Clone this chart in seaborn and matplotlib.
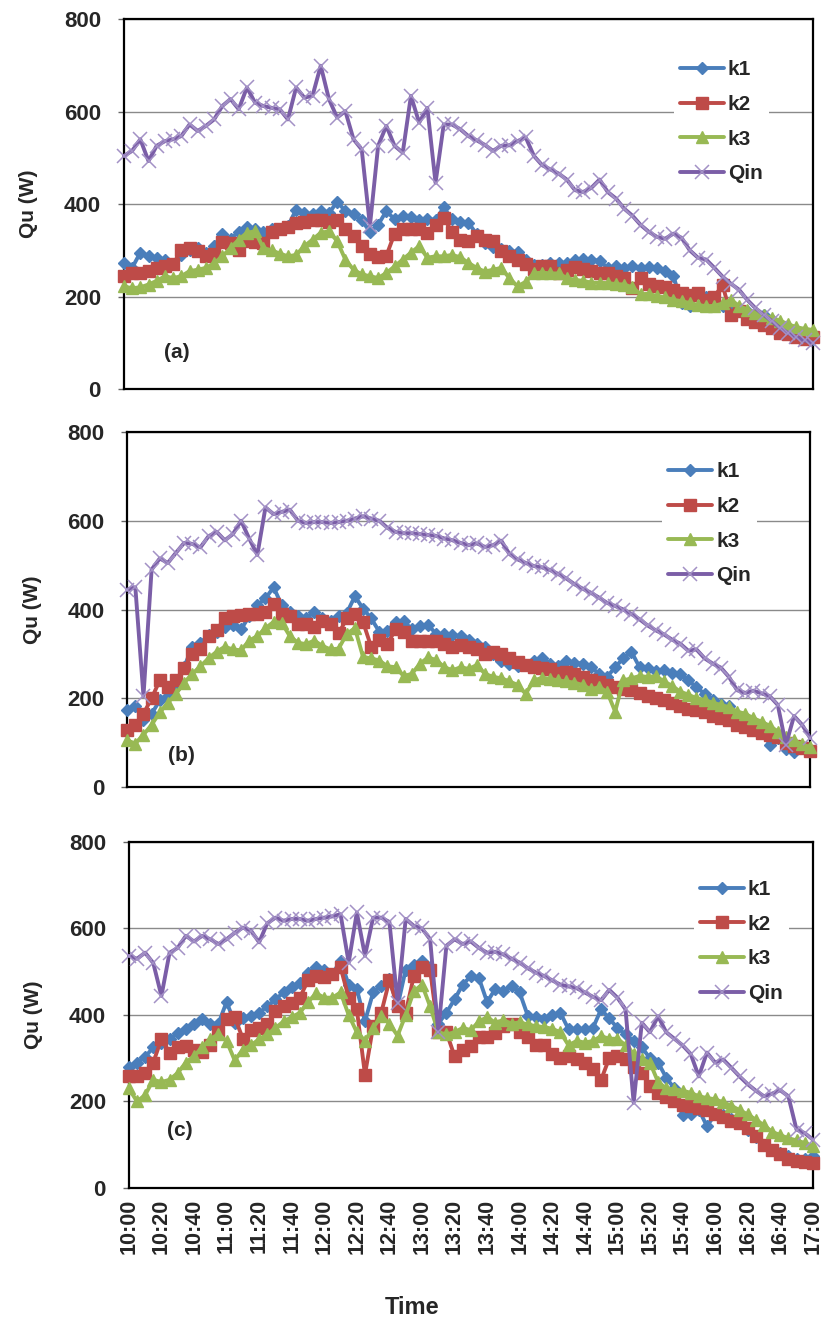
import numpy as np
import seaborn as sns
from matplotlib import pyplot as plt

# time axis, minutes after 10:00, one reading every 5 min
minutes = np.arange(0, 421, 5)
tick_minutes = list(range(0, 421, 20))
tick_labels = ['10:00', '10:20', '10:40', '11:00', '11:20', '11:40', '12:00', '12:20',
               '12:40', '13:00', '13:20', '13:40', '14:00', '14:20', '14:40', '15:00',
               '15:20', '15:40', '16:00', '16:20', '16:40', '17:00']

# panel (a)
k1_a = [273, 262, 295, 287, 284, 280, 270, 290, 300, 305, 295, 310, 335, 325, 340, 350, 345, 340, 345, 345,
        352, 388, 381, 378, 385, 380, 405, 385, 378, 365, 340, 355, 385, 367, 374, 372, 365, 368, 365, 393,
        367, 362, 360,
        335, 316, 308, 302, 298, 296, 280, 269, 269, 273, 273, 273, 280, 282, 280, 277, 262, 265, 262, 266,
        262, 264, 262, 255, 245, 185, 180, 205, 200, 195, 180, 178, 172, 168, 163, 160, 150, 140, 130, 122,
        115, 108]
k2_a = [245, 250, 252, 256, 262, 266, 270, 300, 305, 298, 287, 292, 318, 315, 300, 320, 318, 315, 340, 345,
        350, 358, 362, 365, 366, 362, 366, 345, 330, 310, 292, 285, 288, 336, 345, 345, 345, 338, 355, 370,
        340, 323, 320,
        330, 322, 320, 298, 288, 280, 270, 260, 265, 266, 252, 258, 264, 260, 255, 250, 251, 244, 240, 218,
        240, 228, 222, 220, 215, 208, 204, 208, 193, 200, 225, 160, 168, 152, 145, 138, 132, 122, 118, 112,
        108, 112]
k3_a = [222, 218, 220, 226, 234, 244, 240, 244, 255, 258, 262, 272, 287, 305, 323, 338, 341, 305, 300, 293,
        287, 290, 309, 323, 338, 341, 320, 280, 258, 248, 244, 240, 251, 265, 280, 295, 309, 284, 287, 287,
        290, 285, 273,
        262, 254, 258, 262, 240, 222, 232, 250, 252, 250, 250, 240, 236, 234, 230, 230, 229, 227, 226, 220,
        205, 206, 201, 198, 193, 190, 186, 182, 179, 180, 185, 193, 180, 172, 165, 160, 154, 148, 140, 134,
        130, 128]
qin_a = [504, 515, 540, 493, 526, 536, 540, 547, 572, 558, 569, 583, 612, 627, 605, 652, 619, 612, 608, 605,
         583, 652, 630, 634, 699, 627, 587, 601, 540, 518, 353, 526, 569, 526, 511, 634, 576, 608, 446, 572,
         572, 562, 547,
         538, 528, 515, 526, 527, 536, 544, 504, 484, 475, 466, 453, 430, 426, 435, 453, 426, 412, 390, 375,
         355, 340, 329, 325, 336, 327, 300, 284, 280, 262, 243, 228, 215, 193, 175, 161, 147, 132, 121, 112,
         105, 100]

# panel (b)
k1_b = [173, 182, 150, 165, 195, 205, 225, 270, 316, 325, 342, 350, 360, 365, 355, 385, 410, 425, 450, 410,
        395, 385, 380, 395, 380, 375, 385, 392, 430, 402, 380, 350, 352, 372, 375, 355, 362, 365, 345, 345,
        342, 340, 332,
        322, 316, 300, 285, 278, 272, 275, 285, 290, 278, 272, 284, 280, 278, 271, 255, 248, 270, 290, 305,
        270, 268, 262, 264, 258, 254, 240, 225, 210, 196, 188, 182, 162, 150, 140, 132, 95, 110, 85, 78,
        88, 82]
k2_b = [128, 140, 165, 200, 240, 225, 240, 268, 300, 310, 340, 353, 380, 385, 388, 390, 390, 395, 412, 390,
        385, 368, 368, 360, 375, 368, 346, 380, 390, 372, 316, 331, 323, 355, 350, 330, 330, 330, 330, 322,
        316, 320, 316,
        310, 300, 305, 300, 290, 282, 275, 270, 268, 265, 258, 260, 255, 248, 242, 236, 230, 225, 220, 218,
        212, 206, 200, 196, 190, 182, 176, 174, 168, 160, 156, 150, 140, 135, 128, 122, 118, 112, 100, 92,
        88, 82]
k3_b = [105, 98, 118, 140, 168, 190, 210, 235, 255, 272, 290, 305, 316, 310, 308, 330, 340, 358, 372, 370,
        340, 325, 322, 330, 318, 310, 312, 345, 358, 293, 290, 285, 272, 270, 250, 255, 278, 292, 286, 270,
        263, 270, 266,
        275, 255, 248, 245, 238, 230, 210, 240, 246, 244, 240, 238, 235, 230, 220, 225, 215, 170, 240, 245,
        250, 248, 250, 238, 228, 215, 208, 200, 196, 190, 185, 180, 170, 165, 155, 147, 138, 125, 112, 105,
        96, 90]
qin_b = [445, 450, 205, 490, 515, 505, 528, 550, 548, 540, 565, 575, 556, 570, 600, 560, 523, 630, 615, 620,
         625, 600, 595, 597, 597, 595, 597, 600, 605, 610, 605, 600, 584, 575, 572, 572, 570, 568, 566, 560,
         556, 550, 545,
         549, 541, 545, 555, 525, 513, 505, 498, 495, 489, 480, 470, 457, 447, 438, 427, 415, 408, 400, 390,
         378, 364, 353, 344, 332, 323, 307, 310, 290, 278, 269, 248, 218, 212, 217, 211, 205, 185, 95, 160,
         140, 110]

# panel (c)
k1_c = [280, 290, 303, 325, 335, 344, 358, 367, 380, 390, 380, 380, 430, 382, 394, 398, 405, 420, 436, 452,
        465, 475, 497, 512, 505, 495, 525, 470, 460, 385, 452, 468, 483, 420, 505, 515, 525, 510, 380, 405,
        436, 470, 490,
        485, 430, 460, 455, 468, 452, 398, 395, 390, 400, 405, 367, 367, 367, 370, 413, 392, 370, 355, 340,
        325, 300, 290, 255, 230, 168, 172, 181, 143, 170, 168, 160, 150, 135, 118, 100, 88, 80, 73, 66,
        66, 73]
k2_c = [259, 260, 265, 290, 345, 313, 325, 328, 320, 315, 330, 360, 390, 395, 345, 365, 370, 378, 410, 420,
        428, 440, 480, 490, 488, 495, 510, 440, 413, 262, 374, 405, 480, 420, 405, 490, 510, 505, 360, 360,
        305, 320, 328,
        350, 350, 359, 375, 380, 360, 350, 330, 330, 310, 300, 305, 298, 290, 275, 250, 300, 305, 298, 280,
        265, 235, 220, 210, 200, 192, 189, 186, 180, 170, 163, 155, 150, 138, 120, 100, 88, 78, 68, 62,
        60, 58]
k3_c = [230, 200, 215, 250, 245, 250, 266, 290, 305, 325, 345, 355, 340, 295, 320, 330, 344, 355, 370, 385,
        395, 405, 430, 450, 440, 440, 452, 400, 360, 340, 370, 398, 380, 352, 400, 455, 470, 420, 360, 355,
        360, 370, 365,
        385, 395, 382, 388, 380, 383, 378, 374, 372, 368, 360, 330, 340, 336, 340, 351, 345, 345, 330, 310,
        298, 290, 245, 230, 228, 225, 220, 212, 208, 205, 198, 190, 180, 170, 158, 145, 130, 122, 115, 110,
        104, 97]
qin_c = [537, 530, 544, 520, 444, 544, 555, 583, 570, 583, 575, 564, 575, 590, 602, 595, 568, 612, 625, 618,
         622, 622, 618, 622, 625, 628, 633, 521, 637, 537, 625, 625, 615, 428, 622, 606, 600, 575, 360, 560,
         575, 564, 570,
         555, 544, 546, 540, 530, 521, 508, 498, 490, 480, 470, 466, 462, 452, 442, 434, 458, 440, 413, 197,
         382, 360, 397, 360, 345, 330, 310, 258, 313, 290, 297, 278, 258, 240, 225, 212, 218, 226, 212, 135,
         127, 112]

panels = [
    {'tag': '(a)', 'series': {'k1': k1_a, 'k2': k2_a, 'k3': k3_a, 'Qin': qin_a},
     'rect': [0.150, 0.7057, 0.834, 0.2799], 'legend': (0.798, 0.905), 'tag_pos': (0.058, 0.10)},
    {'tag': '(b)', 'series': {'k1': k1_b, 'k2': k2_b, 'k3': k3_b, 'Qin': qin_b},
     'rect': [0.154, 0.4047, 0.827, 0.2685], 'legend': (0.783, 0.932), 'tag_pos': (0.059, 0.09)},
    {'tag': '(c)', 'series': {'k1': k1_c, 'k2': k2_c, 'k3': k3_c, 'Qin': qin_c},
     'rect': [0.156, 0.1014, 0.828, 0.2617], 'legend': (0.826, 0.908), 'tag_pos': (0.056, 0.165)},
]

# Excel 2007 style colours / markers
styles = {
    'k1': dict(color='#4A7EBB', marker='D', markersize=6.5, markeredgecolor='#4A7EBB', markeredgewidth=1),
    'k2': dict(color='#BE4B48', marker='s', markersize=8, markeredgecolor='#BE4B48', markeredgewidth=1),
    'k3': dict(color='#98B954', marker='^', markersize=8.5, markeredgecolor='#98B954', markeredgewidth=1),
    'Qin': dict(color='#7B5EA7', marker='x', markersize=10, markeredgecolor='#A391C6', markeredgewidth=1.1),
}

for p in panels:
    for name, vals in p['series'].items():
        assert len(vals) == len(minutes), (p['tag'], name, len(vals))

sns.set_style('white')
plt.rcParams['font.family'] = ['Liberation Sans', 'DejaVu Sans']
plt.rcParams['font.weight'] = 'bold'

fig = plt.figure(figsize=(8.26, 13.22), dpi=100)

for i, p in enumerate(panels):
    ax = fig.add_axes(p['rect'])
    for name, vals in p['series'].items():
        sns.lineplot(x=minutes, y=vals, ax=ax, label=name, linewidth=2.8,
                     clip_on=False, zorder=3, **styles[name])

    ax.set_xlim(0, 420)
    ax.set_ylim(0, 800)
    ax.set_yticks([0, 200, 400, 600, 800])
    ax.set_xticks(tick_minutes)
    ax.yaxis.grid(True, color='#8a8a8a', linewidth=1)
    ax.xaxis.grid(False)
    ax.set_axisbelow(True)
    for sp in ax.spines.values():
        sp.set_visible(True)
        sp.set_color('black')
        sp.set_linewidth(1.6)

    ax.tick_params(axis='y', left=True, direction='out', length=4.5, width=1,
                   color='#666666', pad=12, labelsize=16)
    ax.tick_params(axis='x', bottom=False, length=0)
    for lab in ax.get_yticklabels():
        lab.set_fontweight('bold')

    if i == 2:
        ax.set_xticklabels(tick_labels, rotation=90, fontsize=15.5, fontweight='bold')
        ax.tick_params(axis='x', pad=8)
    else:
        ax.set_xticklabels([])

    ax.set_ylabel('Qu (W)', fontsize=15, fontweight='bold')
    ax.yaxis.set_label_coords(-0.125, 0.5)
    ax.set_xlabel('')

    ax.text(p['tag_pos'][0], p['tag_pos'][1], p['tag'], transform=ax.transAxes,
            fontsize=15, fontweight='bold', va='center', ha='left')

    leg = ax.legend(loc='upper left', bbox_to_anchor=p['legend'], frameon=True,
                    facecolor='white', edgecolor='none', framealpha=1,
                    prop={'size': 15, 'weight': 'bold'}, handlelength=2.1,
                    handletextpad=0.2, labelspacing=0.75, borderpad=0.3, borderaxespad=0)
    leg.set_zorder(2.5)

fig.text(0.499, 1 - 1307 / 1322, 'Time', ha='center', va='center', fontsize=17, fontweight='bold')

fig.savefig('out.png', dpi=100)
